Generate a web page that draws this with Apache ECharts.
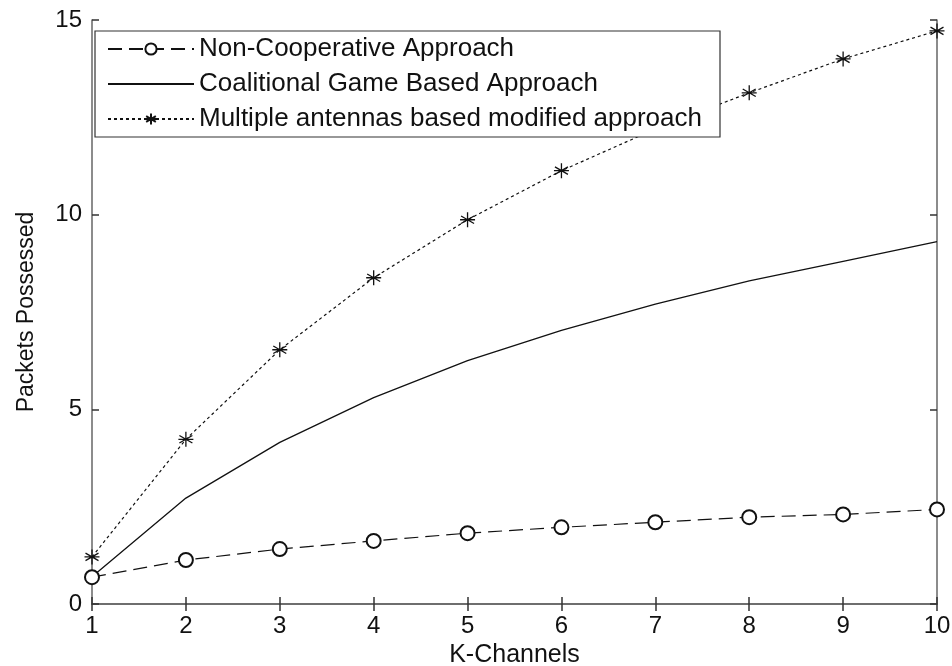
<!DOCTYPE html>
<html>
<head>
<meta charset="utf-8">
<script src="https://cdn.jsdelivr.net/npm/echarts@6/dist/echarts.min.js"></script>
<style>
  html, body { margin: 0; padding: 0; background: #fff; }
  #chart { width: 952px; height: 666px; }
</style>
</head>
<body>
<div id="chart"></div>
<script>
// K-Channels on x axis
const channels = [1, 2, 3, 4, 5, 6, 7, 8, 9, 10];
const nonCoop = [0.69, 1.13, 1.41, 1.62, 1.82, 1.97, 2.1, 2.23, 2.3, 2.43];
const coalitional = [0.7, 2.72, 4.15, 5.3, 6.25, 7.03, 7.7, 8.3, 8.8, 9.31];
const multiAntenna = [1.21, 4.23, 6.53, 8.38, 9.87, 11.13, 12.2, 13.13, 14.0, 14.72];
const yTicks = [0, 5, 10, 15];

const seriesNames = [
    'Non-Cooperative Approach',
    'Coalitional Game Based Approach',
    'Multiple antennas based modified approach'
];

const font = 'Liberation Sans, Arial, sans-serif';
const ink = '#111';
// asterisk marker, stroked only
const starPath = 'path://M0,-10L0,10M-8.66,-5L8.66,5M-8.66,5L8.66,-5M-10,0L10,0';

const toPairs = (arr) => arr.map((v, i) => [channels[i], v]);

const chart = echarts.init(document.getElementById('chart'));

const axisCommon = {
    type: 'value',
    axisLine: { show: true, lineStyle: { color: '#666', width: 1.5 } },
    axisTick: { show: true, inside: true, length: 7, lineStyle: { color: '#333', width: 1.5 } },
    splitLine: { show: false }
};

const options = {
    animation: false,
    backgroundColor: '#fff',
    grid: { left: 92, right: 15, top: 20, bottom: 62, containLabel: false, outerBoundsMode: 'none' },
    legend: {
        orient: 'vertical',
        left: 95,
        top: 31,
        padding: [5, 18, 5, 12],
        itemGap: 9,
        itemWidth: 86,
        itemHeight: 14,
        backgroundColor: '#fff',
        borderColor: '#333',
        borderWidth: 1.2,
        textStyle: { fontFamily: font, fontSize: 26, color: ink },
        data: [
            seriesNames[0],
            { name: seriesNames[1], itemStyle: { opacity: 0 } },
            seriesNames[2]
        ]
    },
    xAxis: [
        Object.assign({}, axisCommon, {
            min: 1, max: 10, interval: 1,
            name: 'K-Channels',
            nameLocation: 'middle',
            nameGap: 37,
            nameTextStyle: { fontFamily: font, fontSize: 25, color: ink },
            axisLabel: { fontFamily: font, fontSize: 24, color: ink, margin: 10 }
        }),
        Object.assign({}, axisCommon, {
            position: 'top',
            min: 1, max: 10, interval: 1,
            axisLabel: { show: false }
        })
    ],
    yAxis: [
        Object.assign({}, axisCommon, {
            min: yTicks[0], max: yTicks[yTicks.length - 1], interval: 5,
            name: 'Packets Possessed',
            nameLocation: 'middle',
            nameGap: 54,
            nameTextStyle: { fontFamily: font, fontSize: 23, color: ink },
            axisLabel: { fontFamily: font, fontSize: 24, color: ink, margin: 10 }
        }),
        Object.assign({}, axisCommon, {
            position: 'right',
            min: yTicks[0], max: yTicks[yTicks.length - 1], interval: 5,
            axisLabel: { show: false }
        })
    ],
    series: [
        {
            name: seriesNames[0],
            type: 'line',
            data: toPairs(nonCoop),
            symbol: 'emptyCircle',
            symbolSize: 14,
            lineStyle: { color: ink, width: 1.2, type: [14, 7] },
            itemStyle: { color: ink, borderColor: ink, borderWidth: 1.2 }
        },
        {
            name: seriesNames[1],
            type: 'line',
            data: toPairs(coalitional),
            showSymbol: false,
            symbol: 'none',
            lineStyle: { color: ink, width: 1.3, type: 'solid' },
            itemStyle: { color: ink }
        },
        {
            name: seriesNames[2],
            type: 'line',
            data: toPairs(multiAntenna),
            symbol: starPath,
            symbolSize: 15,
            lineStyle: { color: ink, width: 1.2, type: [3, 3] },
            itemStyle: { color: 'transparent', borderColor: ink, borderWidth: 1.3 }
        }
    ]
};

chart.setOption(options);
</script>
</body>
</html>
